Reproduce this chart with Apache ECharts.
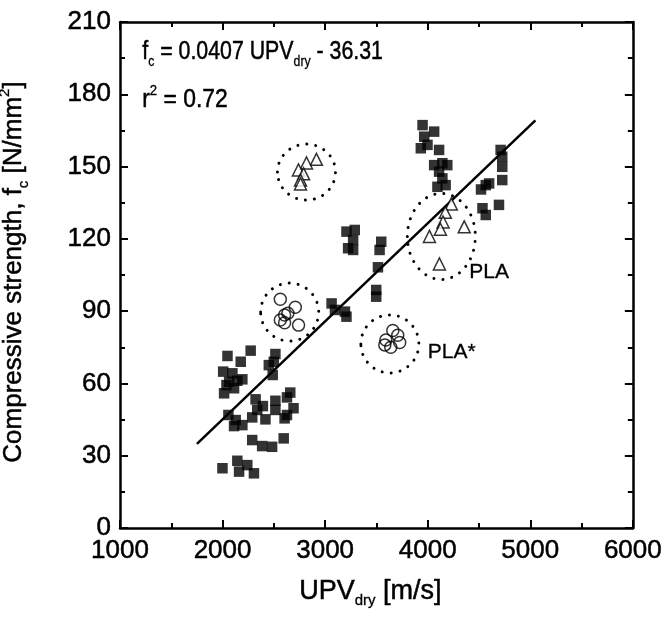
<!DOCTYPE html>
<html><head><meta charset="utf-8">
<script src="https://cdn.jsdelivr.net/npm/echarts@6/dist/echarts.min.js"></script>
<style>html,body{margin:0;padding:0;background:#fff}#c{width:665px;height:625px}</style>
</head><body><div id="c"></div>
<script>
// ---- data ----
const squaresX = [2048,2274,2177,2006,2096,2064,2144,2193,2038,2112,2015,2515,2499,2451,2489,2322,2393,2338,2289,2515,2515,2628,2660,2692,2628,2605,2418,2057,2128,2193,2112,2289,2386,2483,2596,1999,2144,2161,2241,2306,
  3063,3096,3193,3208,3289,3208,3273,3224,3273,3547,3531,3515,3498,3498,
  3950,4063,3966,3933,3998,4111,4063,4143,4191,4111,4143,4095,4175,4711,4727,4727,4566,4727,4534,4695,4566,4520,4599];
const squaresY = [71.4,73.6,69.0,64.9,64.2,60.7,61.1,61.7,59.3,58.0,55.9,72.2,69.0,67.6,63.5,53.4,50.6,49.0,45.9,52.8,49.0,54.2,56.2,49.7,46.9,45.5,45.1,46.9,44.8,42.7,42.3,36.5,34.0,33.7,37.2,24.8,27.9,23.4,26.1,22.7,
  93.2,90.5,89.8,87.7,123.7,123.0,119.5,116.1,115.4,118.8,115.4,108.2,98.8,96.0,
  167.2,164.5,162.4,157.6,159.0,156.9,150.6,151.4,150.6,147.9,145.1,141.6,142.3,156.9,154.1,149.9,142.3,144.4,132.7,134.1,129.9,140.5,143.0];
const trianglesX = [2915,2818,2740,2790,2760,2760, 4230,4172,4150,4124,4017,4356,4114];
const trianglesY = [153.0,151.5,148.6,147.0,144.4,142.8, 134.5,131.0,127.0,124.0,121.0,125.0,109.6];
const circlesX = [2563,2709,2605,2637,2563,2605,2741, 3660,3708,3592,3582,3640,3727];
const circlesY = [94.9,91.6,88.4,89.1,86.3,85.2,84.2, 82.0,80.0,78.0,76.0,75.0,77.0];
const fitX = [1750, 5050];
const fitY = [34.9, 169.2];
// annotation groups: centre (data units)
const groupX = [2818, 2654, 4133, 3631];
const groupY = [147.7, 89.6, 121.0, 76.4];
const groupLabels = ['', '', 'PLA', 'PLA*'];
const xTicks = [1000, 2000, 3000, 4000, 5000, 6000];
const yTicks = [0, 30, 60, 90, 120, 150, 180, 210];

// ---- chart ----
const zip = (a, b) => a.map((v, i) => [v, b[i]]);
const groupRx = [29, 29, 34, 29];
const groupRy = [28, 29, 43, 29];
const labelOffset = [[0,0],[0,0],[28,36],[38,8]];
const FONT = '"Liberation Sans", Arial, sans-serif';
const chart = echarts.init(document.getElementById('c'));
const axisCommon = {
  axisLine: {show: true, onZero: false, lineStyle: {color: '#000', width: 2.5}},
  axisTick: {show: true, inside: true, length: 8, lineStyle: {color: '#000', width: 2}},
  minorTick: {show: true, splitNumber: 2, length: 5, lineStyle: {color: '#000', width: 2}},
  splitLine: {show: false}
};
const lbl = {color: '#000', fontSize: 26, fontFamily: FONT, margin: 9, textBorderColor: '#000', textBorderWidth: 0.5,
  formatter: v => String(v)};
const mainSt = {fontSize: 26, fontFamily: FONT, fill: '#000', lineHeight: 34, stroke: '#000', lineWidth: 0.5};
const subSt = {fontSize: 15, fontFamily: FONT, fill: '#000', lineHeight: 15, verticalAlign: 'bottom', stroke: '#000', lineWidth: 0.3};
const supSt = {fontSize: 15, fontFamily: FONT, fill: '#000', lineHeight: 15, verticalAlign: 'top', stroke: '#000', lineWidth: 0.3};
chart.setOption({
  animation: false,
  grid: {left: 120, right: 28, top: 22, bottom: 97},
  xAxis: [
    Object.assign({type: 'value', position: 'bottom', min: xTicks[0], max: xTicks[xTicks.length-1], interval: 1000,
      axisLabel: Object.assign({}, lbl, {margin: 10})}, axisCommon),
    Object.assign({type: 'value', position: 'top', min: xTicks[0], max: xTicks[xTicks.length-1], interval: 1000,
      axisLabel: {show: false}}, axisCommon)
  ],
  yAxis: [
    Object.assign({type: 'value', position: 'left', min: yTicks[0], max: yTicks[yTicks.length-1], interval: 30,
      axisLabel: lbl}, axisCommon),
    Object.assign({type: 'value', position: 'right', min: yTicks[0], max: yTicks[yTicks.length-1], interval: 30,
      axisLabel: {show: false}}, axisCommon)
  ],
  series: [
    {type: 'line', data: zip(fitX, fitY), showSymbol: false, symbol: 'none',
      lineStyle: {color: '#000', width: 2.5}, z: 2},
    {type: 'scatter', data: zip(squaresX, squaresY), symbol: 'rect', symbolSize: 10.5,
      itemStyle: {color: '#000'}, z: 3},
    {type: 'scatter', data: zip(trianglesX, trianglesY), symbol: 'triangle', symbolSize: 12,
      itemStyle: {color: '#fff', borderColor: '#000', borderWidth: 1.5}, z: 4},
    {type: 'scatter', data: zip(circlesX, circlesY), symbol: 'circle', symbolSize: 12,
      itemStyle: {color: 'rgba(255,255,255,0)', borderColor: '#000', borderWidth: 1.5}, z: 4},
    {type: 'custom', data: zip(groupX, groupY).map((d, i) => d.concat([i])), z: 5,
      renderItem: function (params, api) {
        const i = api.value(2);
        const p = api.coord([api.value(0), api.value(1)]);
        const children = [{
          type: 'ellipse',
          shape: {cx: p[0], cy: p[1], rx: groupRx[i], ry: groupRy[i]},
          style: {fill: null, stroke: '#000', lineWidth: 3, lineDash: [0.01, 9], lineCap: 'round'}
        }];
        if (groupLabels[i]) {
          children.push({type: 'text', x: p[0] + labelOffset[i][0], y: p[1] + labelOffset[i][1],
            style: {text: groupLabels[i], fill: '#000', font: '21px ' + FONT, textVerticalAlign: 'middle', stroke: '#000', lineWidth: 0.3}});
        }
        return {type: 'group', children: children};
      }}
  ],
  graphic: [
    {type: 'text', left: 142, top: 39, scaleX: 0.82, style: {
      rich: {m: mainSt, s: subSt},
      text: '{m|f}{s|c}{m| = 0.0407 UPV}{s|dry}{m| - 36.31}'}},
    {type: 'text', left: 142, top: 83, scaleX: 0.88, style: {
      rich: {m: mainSt, p: supSt},
      text: '{m|r}{p|2}{m| = 0.72}'}},
    {type: 'text', left: 299, top: 578, style: {
      rich: {m: Object.assign({}, mainSt, {fontSize: 27}), s: subSt},
      text: '{m|UPV}{s|dry}{m| [m/s]}'}},
    {type: 'text', x: 14, y: 272, rotation: Math.PI / 2, style: {
      rich: {m: mainSt, s: subSt, p: supSt},
      text: '{m|Compressive strength, f}{s|c}{m| [N/mm}{p|2}{m|]}',
      align: 'center', verticalAlign: 'middle'}}
  ]
});
</script></body></html>
